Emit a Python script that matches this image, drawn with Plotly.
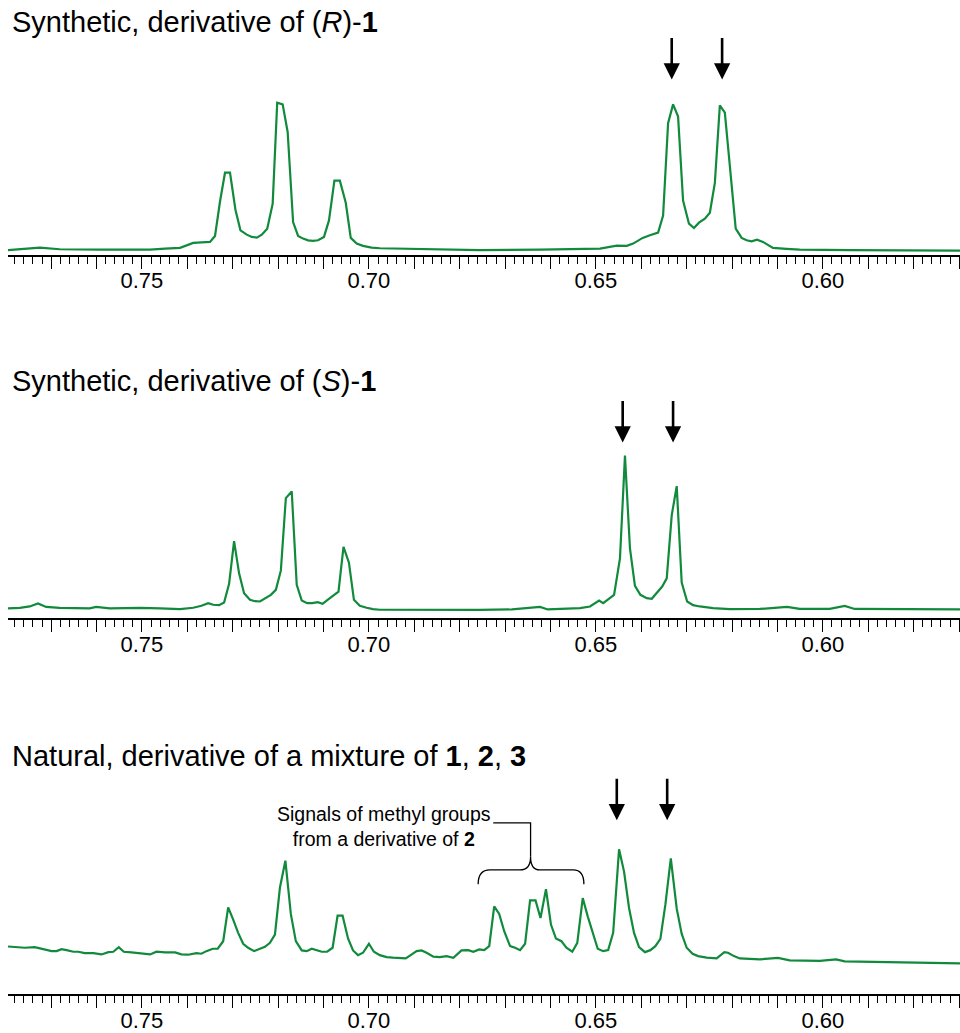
import plotly.graph_objects as go

# ---------------- data (chemical shift, ppm / intensity, arbitrary units) ----------------
ppm_R = [0.7795, 0.7758, 0.7725, 0.7681, 0.7637, 0.7593, 0.7526, 0.7482, 0.7449, 0.7416,
         0.7387, 0.7369, 0.7350, 0.7339, 0.7328, 0.7317, 0.7306, 0.7294, 0.7283, 0.7269,
         0.7258, 0.7247, 0.7236, 0.7224, 0.7212, 0.7202, 0.7190, 0.7179, 0.7167, 0.7156,
         0.7145, 0.7134, 0.7123, 0.7112, 0.7099, 0.7088, 0.7076, 0.7064, 0.7051, 0.7040,
         0.7027, 0.7013, 0.6994, 0.6976, 0.6888, 0.6756, 0.6623, 0.6535, 0.6491, 0.6454,
         0.6432, 0.6418, 0.6397, 0.6381, 0.6363, 0.6352, 0.6341, 0.6330, 0.6319, 0.6308,
         0.6295, 0.6284, 0.6273, 0.6260, 0.6249, 0.6238, 0.6227, 0.6216, 0.6205, 0.6192,
         0.6179, 0.6168, 0.6157, 0.6145, 0.6132, 0.6110, 0.6080, 0.6051, 0.5941, 0.5830,
         0.5698]
int_R = [4.5, 5.5, 7, 5.3, 5.5, 5, 5, 5, 6, 6.7,
         11.7, 12.3, 12.7, 18.7, 53.3, 82.3, 82.3, 45, 24.3, 20,
         17.7, 17, 20, 26, 51, 152.7, 151, 123.3, 32.7, 18.7,
         16, 14.3, 13.7, 14.3, 17.7, 34.3, 74.3, 74.3, 52, 16.7,
         11, 8.7, 7, 6.3, 5.5, 4.5, 5, 6, 6, 9,
         8.7, 11, 16.7, 19.3, 22, 39.3, 132, 151, 138.7, 54.3,
         31, 26.7, 32, 36, 42, 72, 150, 142.7, 91, 26,
         16.7, 14.3, 13.3, 15, 12.7, 6.7, 5.7, 5, 4.5, 4,
         4]

ppm_S = [0.7795, 0.7769, 0.7747, 0.7729, 0.7711, 0.7681, 0.7615, 0.7601, 0.7571, 0.7504,
         0.7460, 0.7416, 0.7387, 0.7369, 0.7354, 0.7343, 0.7330, 0.7319, 0.7308, 0.7297,
         0.7286, 0.7275, 0.7262, 0.7251, 0.7240, 0.7227, 0.7216, 0.7205, 0.7194, 0.7183,
         0.7170, 0.7159, 0.7148, 0.7136, 0.7125, 0.7113, 0.7102, 0.7091, 0.7079, 0.7067,
         0.7056, 0.7044, 0.7033, 0.7020, 0.7005, 0.6991, 0.6976, 0.6866, 0.6756, 0.6685,
         0.6623, 0.6606, 0.6535, 0.6513, 0.6493, 0.6484, 0.6460, 0.6447, 0.6436, 0.6425,
         0.6414, 0.6402, 0.6388, 0.6377, 0.6366, 0.6354, 0.6344, 0.6333, 0.6322, 0.6311,
         0.6299, 0.6286, 0.6271, 0.6242, 0.6205, 0.6139, 0.6079, 0.6051, 0.5985, 0.5952,
         0.5930, 0.5830, 0.5698]
int_S = [10, 10.5, 12, 15, 11.5, 10.5, 10, 11.5, 10, 10.5,
         10, 9.3, 10.7, 12.7, 15.3, 13.7, 13.3, 16, 34.7, 77.7,
         45.3, 25.3, 18.7, 17.3, 17, 20.3, 23.7, 28.7, 48, 121,
         127.7, 33.7, 18, 15.3, 15.3, 16.3, 14.7, 18.7, 22.7, 27,
         72, 56, 18.7, 12.7, 10.7, 9.3, 8.7, 8.5, 8.5, 9,
         11.5, 9, 10.3, 12, 18, 15.3, 23.7, 60.3, 163.7, 70.3,
         32.7, 23.7, 20.3, 19.7, 25.3, 32, 40.3, 103.7, 133, 36,
         17, 13.3, 12, 10.3, 9.3, 9.5, 11.5, 9.5, 9.5, 12.5,
         9.5, 9, 9]

ppm_nat = [0.7795, 0.7780, 0.7758, 0.7736, 0.7717, 0.7699, 0.7688, 0.7677, 0.7666, 0.7651,
           0.7640, 0.7626, 0.7607, 0.7589, 0.7574, 0.7563, 0.7551, 0.7540, 0.7523, 0.7504,
           0.7482, 0.7468, 0.7449, 0.7427, 0.7413, 0.7398, 0.7380, 0.7369, 0.7358, 0.7344,
           0.7333, 0.7321, 0.7310, 0.7299, 0.7288, 0.7277, 0.7266, 0.7253, 0.7242, 0.7229,
           0.7218, 0.7207, 0.7196, 0.7184, 0.7172, 0.7161, 0.7148, 0.7137, 0.7126, 0.7115,
           0.7104, 0.7092, 0.7080, 0.7069, 0.7058, 0.7046, 0.7035, 0.7024, 0.7013, 0.7000,
           0.6989, 0.6976, 0.6961, 0.6947, 0.6932, 0.6919, 0.6908, 0.6895, 0.6884, 0.6873,
           0.6858, 0.6844, 0.6829, 0.6814, 0.6796, 0.6781, 0.6770, 0.6757, 0.6746, 0.6735,
           0.6724, 0.6713, 0.6702, 0.6689, 0.6678, 0.6667, 0.6656, 0.6645, 0.6633, 0.6622,
           0.6610, 0.6599, 0.6588, 0.6576, 0.6565, 0.6552, 0.6541, 0.6529, 0.6518, 0.6507,
           0.6496, 0.6484, 0.6473, 0.6462, 0.6449, 0.6438, 0.6427, 0.6416, 0.6405, 0.6392,
           0.6380, 0.6369, 0.6358, 0.6347, 0.6335, 0.6322, 0.6311, 0.6300, 0.6287, 0.6275,
           0.6256, 0.6234, 0.6217, 0.6209, 0.6196, 0.6183, 0.6139, 0.6099, 0.6073, 0.6007,
           0.5971, 0.5952, 0.5874, 0.5786, 0.5698]
int_nat = [48, 47.3, 46.7, 47.3, 45, 43.3, 43.3, 45.3, 44.3, 42.7,
           42.7, 41.3, 41.3, 40, 42.3, 42.7, 47.3, 42.7, 42, 41.3,
           40, 42.7, 42, 42, 40, 39.7, 41.3, 40.7, 43.3, 45.7,
           45.7, 53.3, 87.3, 75, 61.7, 50.7, 46.7, 43.3, 45, 47.7,
           51.7, 60, 107.3, 134.3, 80.7, 53.3, 44, 43.3, 45.7, 44,
           42.7, 42.7, 46.7, 79, 79, 56, 44, 39.3, 41.7, 50.7,
           42.7, 39.3, 37.3, 36.7, 36.7, 36, 39.3, 43.3, 44, 41.7,
           37.7, 37.3, 38.3, 36.7, 44, 44.3, 42.7, 45, 44.3, 48.3,
           88.3, 80.7, 63.3, 48.3, 46.7, 44.3, 50.7, 94.3, 94.3, 76.7,
           105.7, 70, 56, 53.3, 46.7, 42.7, 51.7, 96.7, 78.3, 61.7,
           45.7, 43.3, 44.3, 61.7, 145.7, 123.3, 86.7, 61.7, 47.3, 42.3,
           44.3, 48.3, 55.7, 90, 136.7, 86, 60.7, 46.7, 40.7, 38.3,
           36.7, 36, 42.3, 41.7, 38.3, 36, 35, 36.5, 34, 33.5,
           35, 33, 32.5, 32, 31]

titles = ["Synthetic, derivative of (<i>R</i>)-<b>1</b>",
          "Synthetic, derivative of (<i>S</i>)-<b>1</b>",
          "Natural, derivative of a mixture of <b>1</b>, <b>2</b>, <b>3</b>"]
arrows_R = [0.6333, 0.6222]
arrows_S = [0.6441, 0.6330]
arrows_nat = [0.6454, 0.6343]
arrow_tip = [176, 177, 175]
tick_labels = {0.75: "0.75", 0.70: "0.70", 0.65: "0.65", 0.60: "0.60"}
brace_note = "Signals of methyl groups<br>from a derivative of <b>2</b>"

assert len(ppm_R) == len(int_R) and len(ppm_S) == len(int_S) and len(ppm_nat) == len(int_nat)

# ---------------- figure ----------------
W, H = 960, 1033
GREEN = "#118a3c"
FONT = "Liberation Sans, Arial, sans-serif"
x_range = [0.7795, 0.5698]
# panel layout: (axis-line pixel row, top pixel row)
panels = [(256, 0), (622, 370), (1000, 745)]

fig = go.Figure()
series = [(ppm_R, int_R), (ppm_S, int_S), (ppm_nat, int_nat)]
for i, (xs, ys) in enumerate(series):
    sfx = "" if i == 0 else str(i + 1)
    fig.add_trace(go.Scatter(x=xs, y=ys, mode="lines",
                             line=dict(color=GREEN, width=2.2),
                             xaxis="x" + sfx, yaxis="y" + sfx,
                             hoverinfo="skip"))

major_vals = [round(0.57 + 0.01 * k, 2) for k in range(21)]
major_text = [tick_labels.get(v, "") for v in major_vals]

layout = dict(width=W, height=H, margin=dict(l=0, r=0, t=0, b=0),
              paper_bgcolor="white", plot_bgcolor="white", showlegend=False,
              font=dict(family=FONT, color="black"))
for i, (bot, top) in enumerate(panels):
    sfx = "" if i == 0 else str(i + 1)
    d0 = 1 - bot / H
    d1 = 1 - top / H
    layout["xaxis" + sfx] = dict(
        domain=[8 / W, 1], range=x_range, autorange=False,
        anchor="y" + sfx, showgrid=False, zeroline=False,
        showline=True, linecolor="black", linewidth=2,
        tickmode="array", tickvals=major_vals, ticktext=major_text,
        ticks="outside", ticklen=12, tickwidth=1, tickcolor="black",
        ticklabelstandoff=-7,
        tickfont=dict(family=FONT, size=22, color="black"),
        minor=dict(tickmode="linear", tick0=0, dtick=0.002, ticks="outside",
                   ticklen=7, tickwidth=1, tickcolor="black", showgrid=False),
        fixedrange=True)
    layout["yaxis" + sfx] = dict(domain=[d0, d1], range=[0, bot - top],
                                 autorange=False, visible=False, fixedrange=True)
fig.update_layout(**layout)

# titles
title_rows = [22, 383, 760]
for t, r in zip(titles, title_rows):
    fig.add_annotation(text=t, xref="paper", yref="paper", x=10 / W, y=1 - r / H,
                       xanchor="left", yanchor="middle", showarrow=False,
                       font=dict(family=FONT, size=29, color="black"))

# arrows
for i, xs in enumerate([arrows_R, arrows_S, arrows_nat]):
    sfx = "" if i == 0 else str(i + 1)
    for xv in xs:
        fig.add_annotation(x=xv, y=arrow_tip[i], xref="x" + sfx, yref="y" + sfx,
                           text="", showarrow=True, ax=0, ay=-43,
                           arrowhead=2, arrowsize=1.25, arrowwidth=2.6,
                           arrowcolor="black", standoff=0)

# brace + label in the natural-sample panel
brace = ("M 0.67593,110.7 C 0.67593,120 0.6750,125 0.67335,125 "
         "L 0.66674,125 C 0.6650,125 0.66439,130 0.66439,138.3 "
         "C 0.66439,130 0.6638,125 0.66234,125 "
         "L 0.65500,125 C 0.6534,125 0.65265,120 0.65265,110.7")
fig.add_shape(type="path", path=brace, xref="x3", yref="y3",
              line=dict(color="black", width=1.3))
fig.add_shape(type="path", path="M 0.66439,138.3 L 0.66439,172.3 L 0.67262,172.3",
              xref="x3", yref="y3", line=dict(color="black", width=1.3))
fig.add_annotation(text=brace_note, x=0.6967, y=169, xref="x3", yref="y3",
                   showarrow=False, xanchor="center", yanchor="middle", align="center",
                   font=dict(family=FONT, size=19.5, color="black"))

fig.write_html("out.html",
               config={"displayModeBar": False, "staticPlot": True},
               post_script="document.body.style.margin='0px';"
                           "document.body.style.overflow='hidden';")
